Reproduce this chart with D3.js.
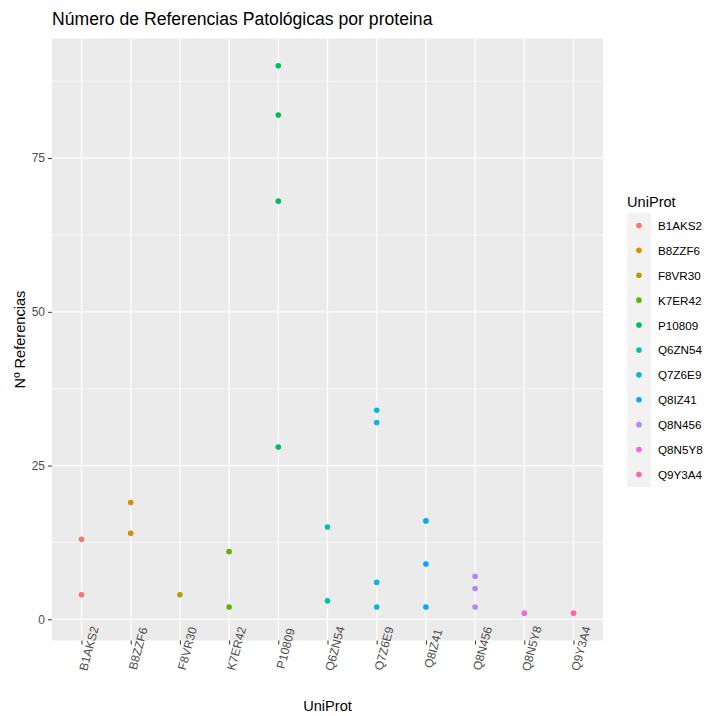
<!DOCTYPE html>
<html>
<head>
<meta charset="utf-8">
<script src="https://cdn.jsdelivr.net/npm/d3@7"></script>
<style>
  body { margin: 0; background: #fff; }
  svg { display: block; font-family: "Liberation Sans", Arial, sans-serif; }
</style>
</head>
<body>
<svg id="chart" width="708" height="716"></svg>
<script>
// ---- data ----
const categories = ["B1AKS2","B8ZZF6","F8VR30","K7ER42","P10809","Q6ZN54","Q7Z6E9","Q8IZ41","Q8N456","Q8N5Y8","Q9Y3A4"];
const pointProtein = ["B1AKS2","B1AKS2","B8ZZF6","B8ZZF6","F8VR30","K7ER42","K7ER42",
  "P10809","P10809","P10809","P10809","Q6ZN54","Q6ZN54",
  "Q7Z6E9","Q7Z6E9","Q7Z6E9","Q7Z6E9","Q8IZ41","Q8IZ41","Q8IZ41",
  "Q8N456","Q8N456","Q8N456","Q8N5Y8","Q9Y3A4"];
const pointRefs = [13,4,19,14,4,11,2,
  90,82,68,28,15,3,
  34,32,6,2,16,9,2,
  7,5,2,1,1];
const colors = ["#F8766D","#DB8E00","#AEA200","#64B200","#00BD5C","#00C1A7","#00BADE","#00A6FF","#B385FF","#EF67EB","#FF63B6"];
const yTicks = [0,25,50,75];
const yMinor = [12.5,37.5,62.5,87.5];
const titleText = "Número de Referencias Patológicas por proteina";
const xTitle = "UniProt";
const yTitle = "Nº Referencias";
const legendTitle = "UniProt";

const points = pointProtein.map((p,i)=>({p, v: pointRefs[i]}));

// ---- layout ----
const svg = d3.select("#chart");
const panel = {left: 52, right: 603, top: 38.5, bottom: 640.5};

const n = categories.length;
const x = d3.scalePoint().domain(categories);
// discrete expansion of 0.6 units on each side
const step = (panel.right - panel.left) / (n - 1 + 1.2);
x.range([panel.left + 0.6*step, panel.right - 0.6*step]);

const vmin = d3.min(pointRefs), vmax = d3.max(pointRefs);
const pad = (vmax - vmin) * 0.05;
const y = d3.scaleLinear().domain([vmin - pad, vmax + pad]).range([panel.bottom, panel.top]);

const color = d3.scaleOrdinal().domain(categories).range(colors);

// panel background
svg.append("rect").attr("x", panel.left).attr("y", panel.top)
  .attr("width", panel.right - panel.left).attr("height", panel.bottom - panel.top)
  .attr("fill", "#EBEBEB");

// minor grid
svg.append("g").selectAll("line").data(yMinor).join("line")
  .attr("x1", panel.left).attr("x2", panel.right)
  .attr("y1", d => y(d)).attr("y2", d => y(d))
  .attr("stroke", "#fff").attr("stroke-width", 0.6);
// major grid
svg.append("g").selectAll("line").data(yTicks).join("line")
  .attr("x1", panel.left).attr("x2", panel.right)
  .attr("y1", d => y(d)).attr("y2", d => y(d))
  .attr("stroke", "#fff").attr("stroke-width", 1.2);
svg.append("g").selectAll("line").data(categories).join("line")
  .attr("x1", d => x(d)).attr("x2", d => x(d))
  .attr("y1", panel.top).attr("y2", panel.bottom)
  .attr("stroke", "#fff").attr("stroke-width", 1.2);

// points
svg.append("g").selectAll("circle").data(points).join("circle")
  .attr("cx", d => x(d.p)).attr("cy", d => y(d.v)).attr("r", 2.8)
  .attr("fill", d => color(d.p));

// y axis
const yAxis = d3.axisLeft(y).tickValues(yTicks).tickSize(4).tickPadding(3);
const gy = svg.append("g").attr("transform", `translate(${panel.left},0)`).call(yAxis);
gy.select(".domain").remove();
gy.selectAll(".tick line").attr("stroke", "#333").attr("stroke-width", 1);
gy.selectAll(".tick text").attr("fill", "#4D4D4D").attr("font-size", 12)
  .attr("font-family", "Liberation Sans, Arial, sans-serif");

// x axis
const xAxis = d3.axisBottom(x).tickSize(4).tickPadding(3);
const gx = svg.append("g").attr("transform", `translate(0,${panel.bottom})`).call(xAxis);
gx.select(".domain").remove();
gx.selectAll(".tick line").attr("stroke", "#333").attr("stroke-width", 1);
gx.selectAll(".tick text").attr("fill", "#4D4D4D").attr("font-size", 12)
  .attr("font-family", "Liberation Sans, Arial, sans-serif")
  .attr("text-anchor", "middle").attr("dy", null).attr("y", null)
  .attr("transform", "translate(7,8) rotate(-75)")
  .attr("dominant-baseline", "central");

// titles
svg.append("text").attr("x", panel.left).attr("y", 25)
  .attr("font-size", 17.6).attr("fill", "#000").text(titleText);
svg.append("text").attr("x", (panel.left + panel.right)/2).attr("y", 711)
  .attr("text-anchor", "middle").attr("font-size", 14.6).attr("fill", "#000").text(xTitle);
svg.append("text")
  .attr("transform", `translate(25,${(panel.top + panel.bottom)/2}) rotate(-90)`)
  .attr("text-anchor", "middle").attr("font-size", 14.6).attr("fill", "#000").text(yTitle);

// legend
const legX = 627, legTop = 213, keySize = 24.9;
svg.append("text").attr("x", legX).attr("y", 207).attr("font-size", 14.6).text(legendTitle);
const leg = svg.append("g");
leg.append("rect").attr("x", legX).attr("y", legTop).attr("width", keySize - 1)
  .attr("height", keySize * n).attr("fill", "#F2F2F2");
const items = leg.selectAll("g").data(categories).join("g")
  .attr("transform", (d,i) => `translate(${legX},${legTop + i*keySize})`);
items.append("circle").attr("cx", keySize/2 - 0.5).attr("cy", keySize/2).attr("r", 2.8)
  .attr("fill", d => color(d));
items.append("text").attr("x", keySize + 6).attr("y", keySize/2)
  .attr("dominant-baseline", "central").attr("font-size", 11.7).attr("fill", "#000")
  .text(d => d);
</script>
</body>
</html>
